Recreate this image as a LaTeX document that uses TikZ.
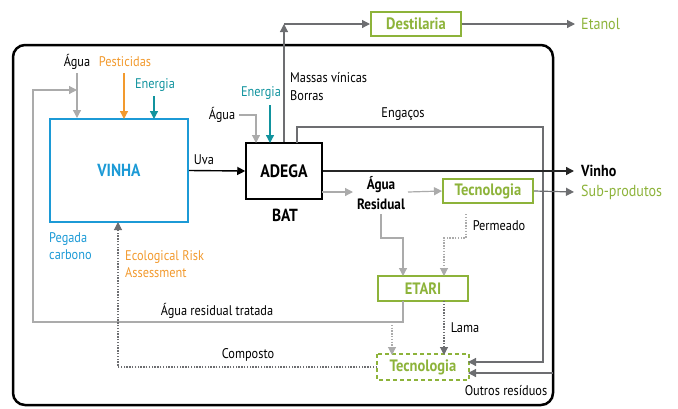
\documentclass[tikz,border=0pt]{standalone}
\usepackage{fontspec}
\setmainfont[FakeStretch=0.88]{PT Sans}
\usetikzlibrary{arrows.meta}
\definecolor{leaf}{HTML}{8DB33A}
\definecolor{sky}{HTML}{1C9AD6}
\definecolor{teal2}{HTML}{11939E}
\definecolor{amber}{HTML}{F29A2E}
\definecolor{lgrey}{HTML}{ABABAB}
\definecolor{dgrey}{HTML}{6D6E71}
\tikzset{
  tip/.style={-{Triangle[length=8pt,width=8pt]}},
  lbl/.style={inner sep=0pt, font=\fontsize{14}{16}\selectfont},
  greenbox/.style={draw=leaf, line width=2pt, text=leaf, inner sep=0pt,
    minimum width=90pt, font=\fontsize{16.5}{18}\selectfont\bfseries},
  lgline/.style={draw=lgrey, line width=1.2pt},
  dgline/.style={draw=dgrey, line width=1.2pt},
  dotline/.style={line width=1.1pt, dash pattern=on 1.4pt off 1.4pt},
}
\begin{document}
\begin{tikzpicture}[x=1pt,y=-1pt]
\useasboundingbox (0,0) rectangle (678,408);

% system boundary
\draw[line width=2.5pt, rounded corners=12pt] (13,45) rectangle (553,405);

% main boxes
\node[draw=sky, line width=2pt, minimum width=138pt, minimum height=103pt,
  text=sky, font=\fontsize{17.5}{19}\selectfont\bfseries] (vinha) at (119,170.5) {VINHA};
\node[draw, line width=1.5pt, minimum width=76pt, minimum height=56pt,
  font=\fontsize{18}{20}\selectfont\bfseries] (adega) at (284,171) {ADEGA};
\node[greenbox, minimum height=24pt] (dest) at (416,24) {Destilaria};
\node[greenbox, minimum height=24pt] (tec1) at (488,191) {Tecnologia};
\node[greenbox, minimum height=25pt] (etari) at (423,288.5) {ETARI};
\node[greenbox, draw=none, minimum height=24pt] (tec2) at (423,367) {Tecnologia};
\draw[leaf, line width=2pt, dash pattern=on 4pt off 3pt] (tec2.north west) rectangle (tec2.south east);

% labels
\node[lbl] (aguaV) at (77,62) {Água};
\node[lbl, text=amber] (pest) at (125,62) {Pesticidas};
\node[lbl, text=teal2] (enV) at (155,85) {Energia};
\node[lbl] (aguaA) at (222,115) {Água};
\node[lbl, text=teal2] (enA) at (261,93) {Energia};
\node[lbl, anchor=west, align=left, font=\fontsize{14}{18}\selectfont] (massas) at (290,87) {Massas vínicas\\Borras};
\node[lbl] (engacos) at (403,114) {Engaços};
\node[lbl] (uva) at (204,160) {Uva};
\node[lbl, font=\fontsize{17.5}{19}\selectfont\bfseries] (bat) at (285,215) {BAT};
\node[lbl, anchor=west, font=\fontsize{16}{18}\selectfont\bfseries] (vinho) at (581,171) {Vinho};
\node[lbl, anchor=west, text=leaf, font=\fontsize{16}{18}\selectfont] (subp) at (581,192) {Sub-produtos};
\node[lbl, anchor=west, text=leaf, font=\fontsize{16}{18}\selectfont] (etanol) at (581,24) {Etanol};
\node[lbl, align=center, font=\fontsize{15}{20}\selectfont\bfseries] (agres) at (381,193) {Água\\Residual};
\node[lbl] (perm) at (499,226) {Permeado};
\node[lbl, anchor=west, align=left, text=sky, font=\fontsize{14}{17}\selectfont] (pegada) at (49,246.5) {Pegada\\carbono};
\node[lbl, anchor=west, align=left, text=amber, font=\fontsize{14}{17}\selectfont] (era) at (125,264.5) {Ecological Risk\\Assessment};
\node[lbl] (tratada) at (217,311) {Água residual tratada};
\node[lbl] (lama) at (465,328) {Lama};
\node[lbl] (composto) at (248,355) {Composto};
\node[lbl] (outros) at (506,391) {Outros resíduos};

% junction points
\coordinate (distc) at (284,24);
\coordinate (loopin) at (77,90);
\coordinate (engtop) at (297,143);
\coordinate (engin) at (468,362);
\coordinate (outin) at (468,373);
\coordinate (outsrc) at (553,373);
\coordinate (awin) at (256,143);
\coordinate (enin) at (270,143);
\coordinate (arout) at (322,192);
\coordinate (arsplit) at (381,214);
\coordinate (etin1) at (403,276);
\coordinate (etin2) at (444,276);
\coordinate (etout1) at (403,301);
\coordinate (etout2) at (444,301);
\coordinate (tecout) at (466,214);
\coordinate (drop) at (392,322);
\coordinate (tec2in) at (392,355);
\coordinate (lamain) at (444,355);
\coordinate (vinhain) at (118,222);

% vineyard inputs
\draw[lgline, tip] (77,73) -- (aguaV.south |- vinha.north);
\draw[amber, line width=1.3pt, tip] (124,73) -- (124,119);
\draw[teal2, line width=1.3pt, tip] (154,96) -- (154,119);

% treated water back to the vineyard
\draw[lgline, tip] (etout1) |- (33,322) |- (loopin);

% grapes to winery
\draw[line width=1.4pt, tip] (vinha.east) -- (adega.west);

% winery inputs
\draw[lgline, tip] (aguaA.east) ++(4,0) -| (awin);
\draw[teal2, line width=1.3pt, tip] (270,105) -- (enin);

% marc and lees to distillery
\draw[dgline, tip] (adega.north) -- (distc);
\draw[dgline, tip] (distc) -- (dest.west);
\draw[dgline, tip] (dest.east) -- (575,24);

% stalks to composting
\draw[dgline, tip] (engtop) |- (543,127) |- (engin);
\draw[dgline, tip] (outsrc) -- (outin);

% wine out
\draw[line width=1.5pt, draw=black!85, tip] (adega.east) -- (574,171);

% wastewater
\draw[lgline, tip] (arout) -- (353,192);
\draw[lgline, tip] (408,192) -- (tec1.west);
\draw[dgline, tip] (tec1.east) -- (574,192);
\draw[lgline, tip] (arsplit) |- (403,238) -- (etin1);
\draw[lgline, dotline, tip] (tecout) |- (444,238) -- (etin2);

% sludge and composting
\draw[lgline, dotline, tip] (drop) -- (tec2in);
\draw[dgline, dotline, tip] (etout2) -- (lamain);
\draw[dgline, dotline, tip] (tec2.west) -| (vinhain);
\end{tikzpicture}
\end{document}
